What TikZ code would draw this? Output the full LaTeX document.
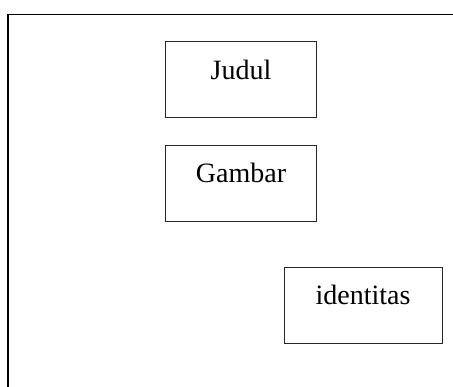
\documentclass[tikz,border=0pt]{standalone}
\usepackage{fontspec}
\setmainfont{Liberation Serif}
\begin{document}
\begin{tikzpicture}[x=1pt,y=-1pt,
  frame/.style={line width=1.1pt, black},
  box/.style={draw=black!85, line width=0.9pt, rectangle, inner sep=0pt},
  lbl/.style={anchor=base, inner sep=0pt, font=\fontsize{28}{32}\selectfont}]
  \useasboundingbox (0,0) rectangle (453,387);
  % open page frame: left edge and top edge
  \coordinate (tl) at (8,14.5);
  \coordinate (bl) at (8,387);
  \coordinate (tr) at (453,14.5);
  \draw[frame] (bl) -- (tl) -- (tr);
  % boxes
  \node[box, minimum width=150.5pt, minimum height=76pt] (judulbox) at (241,79.7) {};
  \node[box, minimum width=150.5pt, minimum height=76pt] (gambarbox) at (241,183) {};
  \node[box, minimum width=158pt, minimum height=75.5pt] (idbox) at (363.2,305.5) {};
  % labels
  \node[lbl] (judul) at (241,79.3) {Judul};
  \node[lbl] (gambar) at (241,182.7) {Gambar};
  \node[lbl] (identitas) at (363,304.3) {identitas};
\end{tikzpicture}
\end{document}
